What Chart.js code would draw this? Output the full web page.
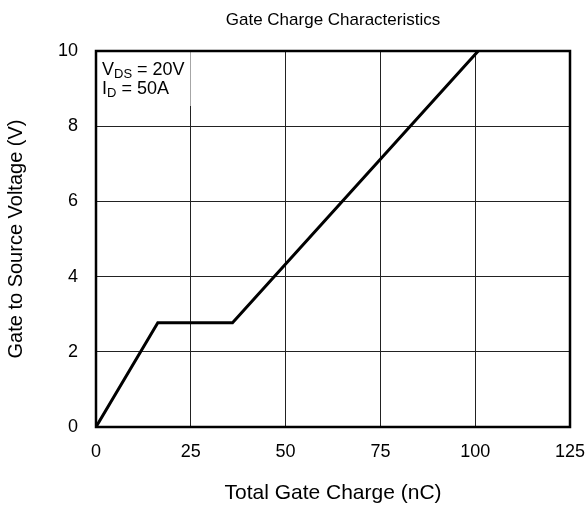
<!DOCTYPE html>
<html>
<head>
<meta charset="utf-8">
<script src="https://cdn.jsdelivr.net/npm/chart.js@4/dist/chart.umd.min.js"></script>
<style>
  body { margin: 0; background: #fff; }
  #wrap { width: 587px; height: 509px; }
</style>
</head>
<body>
<div id="wrap"><canvas id="myCanvas" width="587" height="509"></canvas></div>
<script>
// gate charge curve
const chargeNC = [0, 16.3, 36, 100.8];
const gateVolts = [0, 2.77, 2.77, 10];
const xTicks = [0, 25, 50, 75, 100, 125];
const yTicks = [0, 2, 4, 6, 8, 10];
const chartTitle = "Gate Charge Characteristics";
const xTitle = "Total Gate Charge (nC)";
const yTitle = "Gate to Source Voltage (V)";

const FONT = "Liberation Sans, Arial, sans-serif";

const points = [];
for (let i = 0; i < chargeNC.length; i++) {
  points.push({ x: chargeNC[i], y: gateVolts[i] });
}

// title centred over plot, frame and the test-condition note
const extras = {
  id: "extras",
  beforeDatasetsDraw(chart) {
    const { ctx, chartArea: a } = chart;
    ctx.save();
    // note box, lets the grid show through a bit
    ctx.fillStyle = "rgba(255,255,255,0.6)";
    ctx.fillRect(a.left + 1, a.top + 1, 96, 54);
    ctx.fillStyle = "#000";
    ctx.textBaseline = "alphabetic";
    ctx.font = "18px " + FONT;
    let x = a.left + 6;
    ctx.fillText("V", x, a.top + 24);
    x += ctx.measureText("V").width;
    ctx.font = "13px " + FONT;
    ctx.fillText("DS", x, a.top + 27);
    x += ctx.measureText("DS").width;
    ctx.font = "18px " + FONT;
    ctx.fillText(" = 20V", x, a.top + 24);
    x = a.left + 6;
    ctx.fillText("I", x, a.top + 43);
    x += ctx.measureText("I").width;
    ctx.font = "13px " + FONT;
    ctx.fillText("D", x, a.top + 46);
    x += ctx.measureText("D").width;
    ctx.font = "18px " + FONT;
    ctx.fillText(" = 50A", x, a.top + 43);
    ctx.restore();
  },
  afterDraw(chart) {
    const { ctx, chartArea: a } = chart;
    ctx.save();
    ctx.strokeStyle = "#000";
    ctx.lineWidth = 2.5;
    ctx.strokeRect(a.left, a.top, a.right - a.left, a.bottom - a.top);
    ctx.fillStyle = "#000";
    ctx.font = "17px " + FONT;
    ctx.textAlign = "center";
    ctx.textBaseline = "middle";
    ctx.fillText(chartTitle, (a.left + a.right) / 2, 20);
    ctx.restore();
  }
};

new Chart(document.getElementById("myCanvas"), {
  type: "scatter",
  data: {
    datasets: [
      {
        data: points,
        showLine: true,
        borderColor: "#000",
        borderWidth: 3,
        pointRadius: 0,
        fill: false
      }
    ]
  },
  plugins: [extras],
  options: {
    responsive: false,
    animation: false,
    layout: { padding: { top: 51, right: 17, left: 0, bottom: 0 } },
    plugins: {
      legend: { display: false },
      tooltip: { enabled: false }
    },
    scales: {
      x: {
        type: "linear",
        min: 0,
        max: 125,
        afterBuildTicks: (s) => { s.ticks = xTicks.map((v) => ({ value: v })); },
        afterFit: (s) => {
          s.height = 82;
          s.paddingLeft = 0;
          s.paddingRight = 0;
        },
        grid: { color: "#222", lineWidth: 1, drawTicks: false },
        border: { display: false },
        ticks: { color: "#000", font: { family: FONT, size: 18 }, padding: 14, maxRotation: 0 },
        title: {
          display: true,
          text: xTitle,
          color: "#000",
          font: { family: FONT, size: 21 },
          padding: { top: 0, bottom: 3 }
        }
      },
      y: {
        min: 0,
        max: 10,
        afterBuildTicks: (s) => { s.ticks = yTicks.map((v) => ({ value: v })); },
        afterFit: (s) => { s.width = 96; },
        grid: { color: "#222", lineWidth: 1, drawTicks: false },
        border: { display: false },
        ticks: { color: "#000", font: { family: FONT, size: 18 }, padding: 18 },
        title: {
          display: true,
          text: yTitle,
          color: "#000",
          font: { family: FONT, size: 20 },
          padding: { top: 4, bottom: 0 }
        }
      }
    }
  }
});
</script>
</body>
</html>
